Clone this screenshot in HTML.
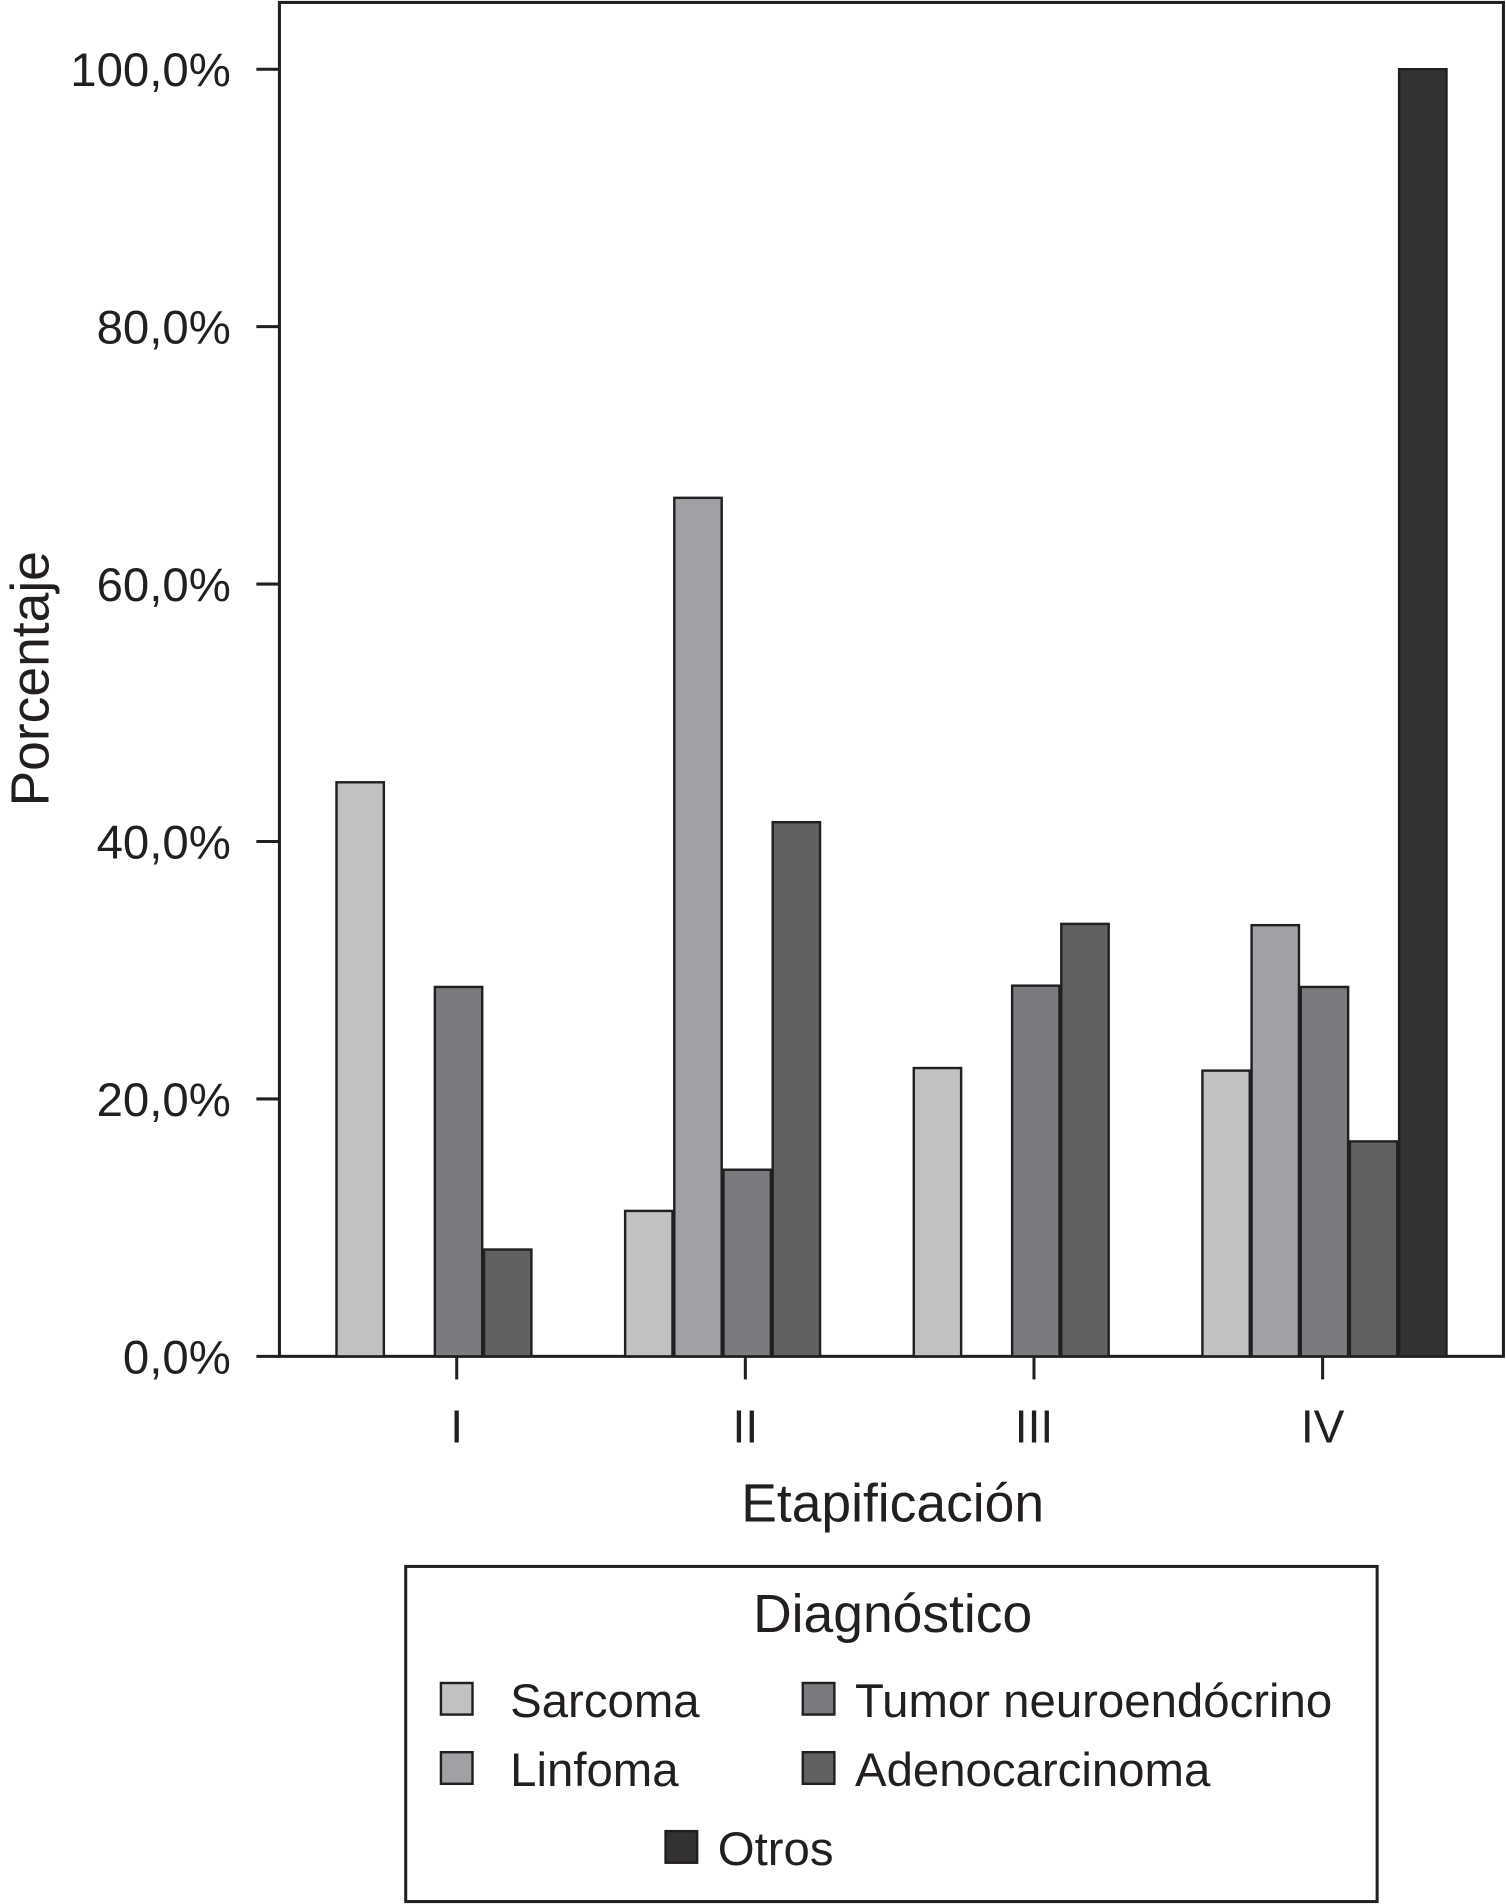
<!DOCTYPE html>
<html><head><meta charset="utf-8"><style>html,body{margin:0;padding:0;background:#fff}svg{display:block}text{font-family:"Liberation Sans",sans-serif;fill:#231f20}</style></head>
<body>
<svg id="chart" width="1506" height="1904" viewBox="0 0 1240 1568" xmlns="http://www.w3.org/2000/svg">
<rect x="230" y="2" width="1008" height="1115" fill="none" stroke="#231f20" stroke-width="2.5"/>
<g id="ticks"></g>
<g id="bars"></g>
<text x="40" y="559" font-size="44" text-anchor="middle" transform="rotate(-90 40 559)">Porcentaje</text>
<text x="735" y="1253" font-size="44" text-anchor="middle">Etapificación</text>
<g>
<rect x="334" y="1290" width="800" height="276" fill="none" stroke="#231f20" stroke-width="2.5"/>
<text x="735" y="1344" font-size="44" text-anchor="middle">Diagnóstico</text>
<g id="legend-items"></g>
</g>
</svg>
<script>
const categories=["I","II","III","IV"];
const seriesNames=["Sarcoma","Linfoma","Tumor neuroendócrino","Adenocarcinoma","Otros"];
const sarcoma=[44.6,11.3,22.4,22.2];
const linfoma=[0,66.7,0,33.5];
const tumor=[28.7,14.5,28.8,28.7];
const adeno=[8.3,41.5,33.6,16.7];
const otros=[0,0,0,100];
const yTicks=[0,20,40,60,80,100];
const yTickLabels=["0,0%","20,0%","40,0%","60,0%","80,0%","100,0%"];
const colors=["#c0c1c3","#a0a1a4","#7a7b7e","#606163","#333134"];
const series=[sarcoma,linfoma,tumor,adeno,otros];
const NS="http://www.w3.org/2000/svg";
const y=v=>1117-v*10.6;
const x=i=>376+i*237.7;
const tk=document.getElementById('ticks'),bg=document.getElementById('bars'),lg=document.getElementById('legend-items');
function mk(t,a,p){const e=document.createElementNS(NS,t);for(const k in a)e.setAttribute(k,a[k]);p.appendChild(e);return e;}
yTicks.forEach((v,i)=>{
 const l=mk('line',{x1:211,x2:230,y1:y(v),y2:y(v),stroke:'#231f20','stroke-width':2.5},tk);
 
 
 const t=mk('text',{x:190,y:y(v)+14,'font-size':39,'text-anchor':'end'},tk);t.textContent=yTickLabels[i];
 
 
});
categories.forEach((c,i)=>{
 const l=mk('line',{x1:x(i),x2:x(i),y1:1117,y2:1136,stroke:'#231f20','stroke-width':2.5},tk);
 
 
 const t=mk('text',{x:x(i),y:1188,'font-size':38,'text-anchor':'middle'},tk);t.textContent=c;
 
 
 series.forEach((s,j)=>{
  if(!s[i])return;
  const r=mk('rect',{x:x(i)-99+j*40.5,y:y(s[i]),width:39,height:1117-y(s[i]),fill:colors[j],stroke:'#231f20','stroke-width':2},bg);
  
  
 });
});
const lp=[[363,1386,420],[363,1443,420],[661,1386,704],[661,1443,704],[548,1508,591]];
seriesNames.forEach((n,j)=>{
 const [sx,sy,tx]=lp[j];
 const r=mk('rect',{x:sx,y:sy,width:26,height:26,fill:colors[j],stroke:'#231f20','stroke-width':2},lg);
 
 
 const t=mk('text',{x:tx,y:sy+28,'font-size':39},lg);t.textContent=n;
 
 
});
</script>
</body></html>
